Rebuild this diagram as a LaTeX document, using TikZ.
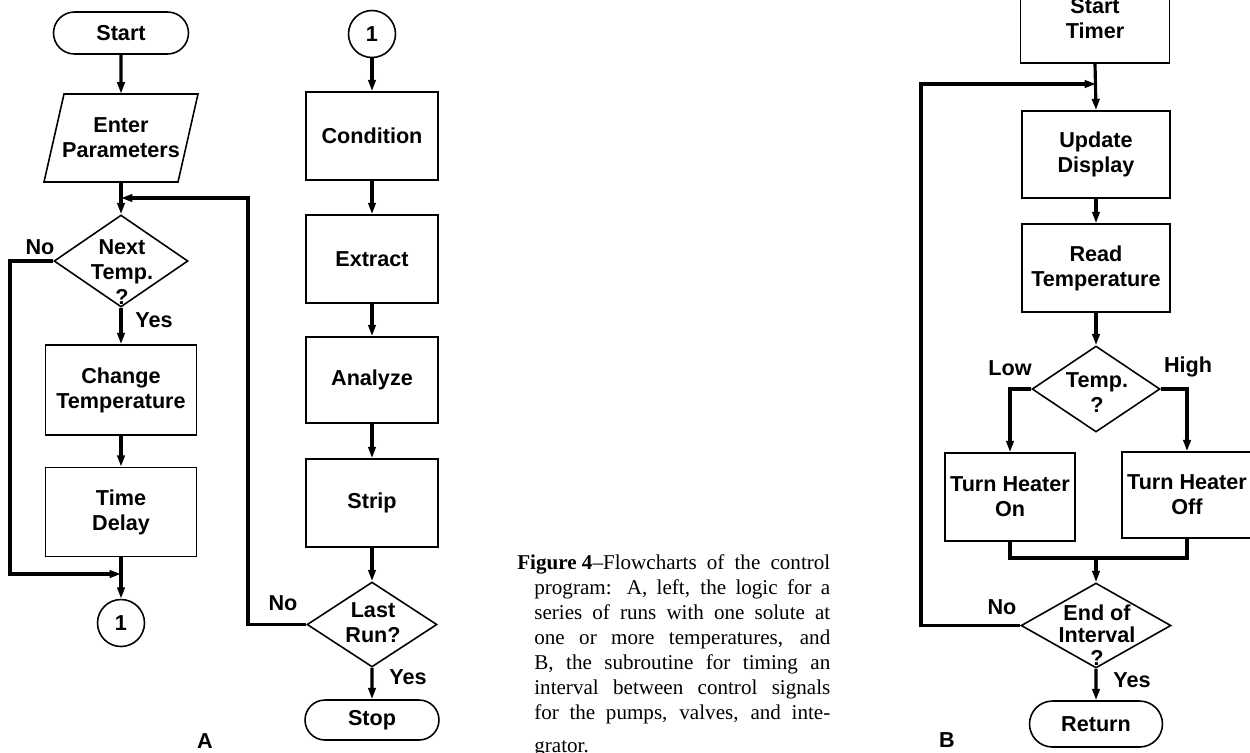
\documentclass[tikz,border=0pt]{standalone}
\usepackage{fontspec}
\setmainfont{Liberation Serif}
\setsansfont{Liberation Sans}
\usetikzlibrary{shapes.geometric,shapes.misc,arrows.meta}
\newcommand\labfont{\sffamily\bfseries\fontsize{12.3}{14.2}\selectfont}
\newcommand\capfont{\rmfamily\fontsize{12}{14}\selectfont}
\tikzset{
  proc/.style={draw, line width=0.9pt, align=center, font=\labfont, inner sep=0pt},
  term/.style={rounded rectangle, draw, line width=0.9pt, align=center, font=\labfont, inner sep=0pt},
  dec/.style={diamond, draw, line width=0.9pt, inner sep=0pt},
  conn/.style={circle, draw, line width=0.9pt, minimum size=0.94cm, inner sep=0pt, font=\labfont},
  txt/.style={align=center, font=\labfont, inner sep=1pt},
  flow/.style={line width=1.8pt, -{Triangle[length=6.5pt,width=4.2pt]}},
  wire/.style={line width=1.8pt},
  capline/.style={anchor=base west, inner sep=0pt, font=\capfont}
}
\begin{document}
\begin{tikzpicture}[x=0.02cm, y=-0.02cm]
\useasboundingbox (0,0) rectangle (1250,752);

% ---------------- Chart A, left column ----------------
\node[term, minimum width=2.7cm, minimum height=0.84cm] (start) at (121,33) {Start};
\node[txt, minimum width=2.28cm, minimum height=1.76cm, inner sep=0pt] (enter) at (121,138) {Enter\\Parameters};
\draw[line width=0.9pt] (enter.center) ++(-57,-44) -- ++(134,0) -- ++(-20,88) -- ++(-134,0) -- cycle;
\coordinate (j1) at (121,198);
\node[dec, minimum width=2.68cm, minimum height=1.84cm] (d1) at (121,261) {};
\node[txt] (d1t) at (122,272) {Next\\Temp.\\?};
\node[proc, minimum width=3.02cm, minimum height=1.8cm] (change) at (121,390) {Change\\Temperature};
\node[proc, minimum width=3.02cm, minimum height=1.78cm] (delay) at (121,512) {Time\\Delay};
\coordinate (j2) at (121,574);
\coordinate (lx) at (10,574);
\node[conn] (c1) at (121,623) {1};
\node[txt] (nol1) at (40,247) {No};
\node[txt] (yesl1) at (154,320) {Yes};
\node[txt] (labA) at (205,741) {A};

\draw[flow] (start) -- (enter);
\draw[flow] (enter) -- (d1);
\draw[flow] (d1) -- (change);
\draw[flow] (change) -- (delay);
\draw[flow] (delay) -- (c1);
\draw[flow] (d1.west) -| (lx) -- (j2);

% ---------------- Chart A, right column ----------------
\node[conn] (c2) at (372,34) {1};
\node[proc, minimum width=2.64cm, minimum height=1.76cm] (cond) at (372,136) {Condition};
\node[proc, minimum width=2.64cm, minimum height=1.76cm] (extract) at (372,259) {Extract};
\node[proc, minimum width=2.64cm, minimum height=1.72cm] (analyze) at (372,380) {Analyze};
\node[proc, minimum width=2.64cm, minimum height=1.76cm] (strip) at (372,503) {Strip};
\node[dec, minimum width=2.6cm, minimum height=1.7cm] (d2) at (372,624.5) {};
\node[txt] (d2t) at (373,623) {Last\\Run?};
\node[term, minimum width=2.68cm, minimum height=0.8cm] (stop) at (372,720) {Stop};
\node[txt] (nol2) at (283,603) {No};
\node[txt] (yesl2) at (408,677) {Yes};
\coordinate (lx2) at (248,198);

\draw[flow] (c2) -- (cond);
\draw[flow] (cond) -- (extract);
\draw[flow] (extract) -- (analyze);
\draw[flow] (analyze) -- (strip);
\draw[flow] (strip) -- (d2);
\draw[flow] (d2) -- (stop);
\draw[flow] (d2.west) -| (lx2) -- (j1);

% ---------------- Caption ----------------
\node[capline] (cap1) at (517,569) {\makebox[6.26cm][s]{\mbox{\textbf{Figure 4}}–Flowcharts of the control}};
\node[capline] (cap2) at (534,594) {\makebox[5.92cm][s]{program: A, left, the logic for a}};
\node[capline] (cap3) at (534,619) {\makebox[5.92cm][s]{series of runs with one solute at}};
\node[capline] (cap4) at (534,644) {\makebox[5.92cm][s]{one or more temperatures, and}};
\node[capline] (cap5) at (534,669) {\makebox[5.92cm][s]{B, the subroutine for timing an}};
\node[capline] (cap6) at (534,694) {\makebox[5.92cm][s]{interval between control signals}};
\node[capline] (cap7) at (534,719) {\makebox[5.92cm][s]{for the pumps, valves, and inte-}};
\node[capline] (cap8) at (534,752) {grator.};

% ---------------- Chart B ----------------
\node[proc, minimum width=2.98cm, minimum height=1.76cm] (timer) at (1095,19) {Start\\Timer};
\coordinate (j3) at (1096,84);
\coordinate (bx) at (921,84);
\node[proc, minimum width=2.96cm, minimum height=1.74cm] (update) at (1096,154.5) {Update\\Display};
\node[proc, minimum width=2.96cm, minimum height=1.76cm] (read) at (1096,268) {Read\\Temperature};
\node[dec, minimum width=2.56cm, minimum height=1.72cm] (d3) at (1096,389) {};
\node[txt] (d3t) at (1097,393) {Temp.\\?};
\node[proc, minimum width=2.6cm, minimum height=1.76cm] (on) at (1010,497) {Turn Heater\\On};
\node[proc, minimum width=2.6cm, minimum height=1.72cm] (off) at (1187,495) {Turn Heater\\Off};
\coordinate (j4) at (1096,558);
\node[dec, minimum width=3.0cm, minimum height=1.7cm] (d4) at (1096,625.5) {};
\node[txt, font=\sffamily\bfseries\fontsize{12.3}{13}\selectfont] (d4t) at (1097,635) {End of\\Interval\\?};
\node[term, minimum width=2.66cm, minimum height=0.92cm] (ret) at (1096,724) {Return};
\node[txt] (lowl) at (1010,368) {Low};
\node[txt] (highl) at (1188,367) {High};
\node[txt] (nol3) at (1002,607) {No};
\node[txt] (yesl3) at (1132,680) {Yes};
\node[txt] (labB) at (947,740) {B};

\draw[flow] (timer.south) -- (update.north);
\draw[flow] (update) -- (read);
\draw[flow] (read) -- (d3);
\draw[flow] (d3.west) -| (on.north);
\draw[flow] (d3.east) -| (off.north);
\draw[wire] (on.south) |- (j4) -| (off.south);
\draw[flow] (j4) -- (d4.north);
\draw[flow] (d4) -- (ret);
\draw[flow] (d4.west) -| (bx) -- (j3);
\end{tikzpicture}
\end{document}
